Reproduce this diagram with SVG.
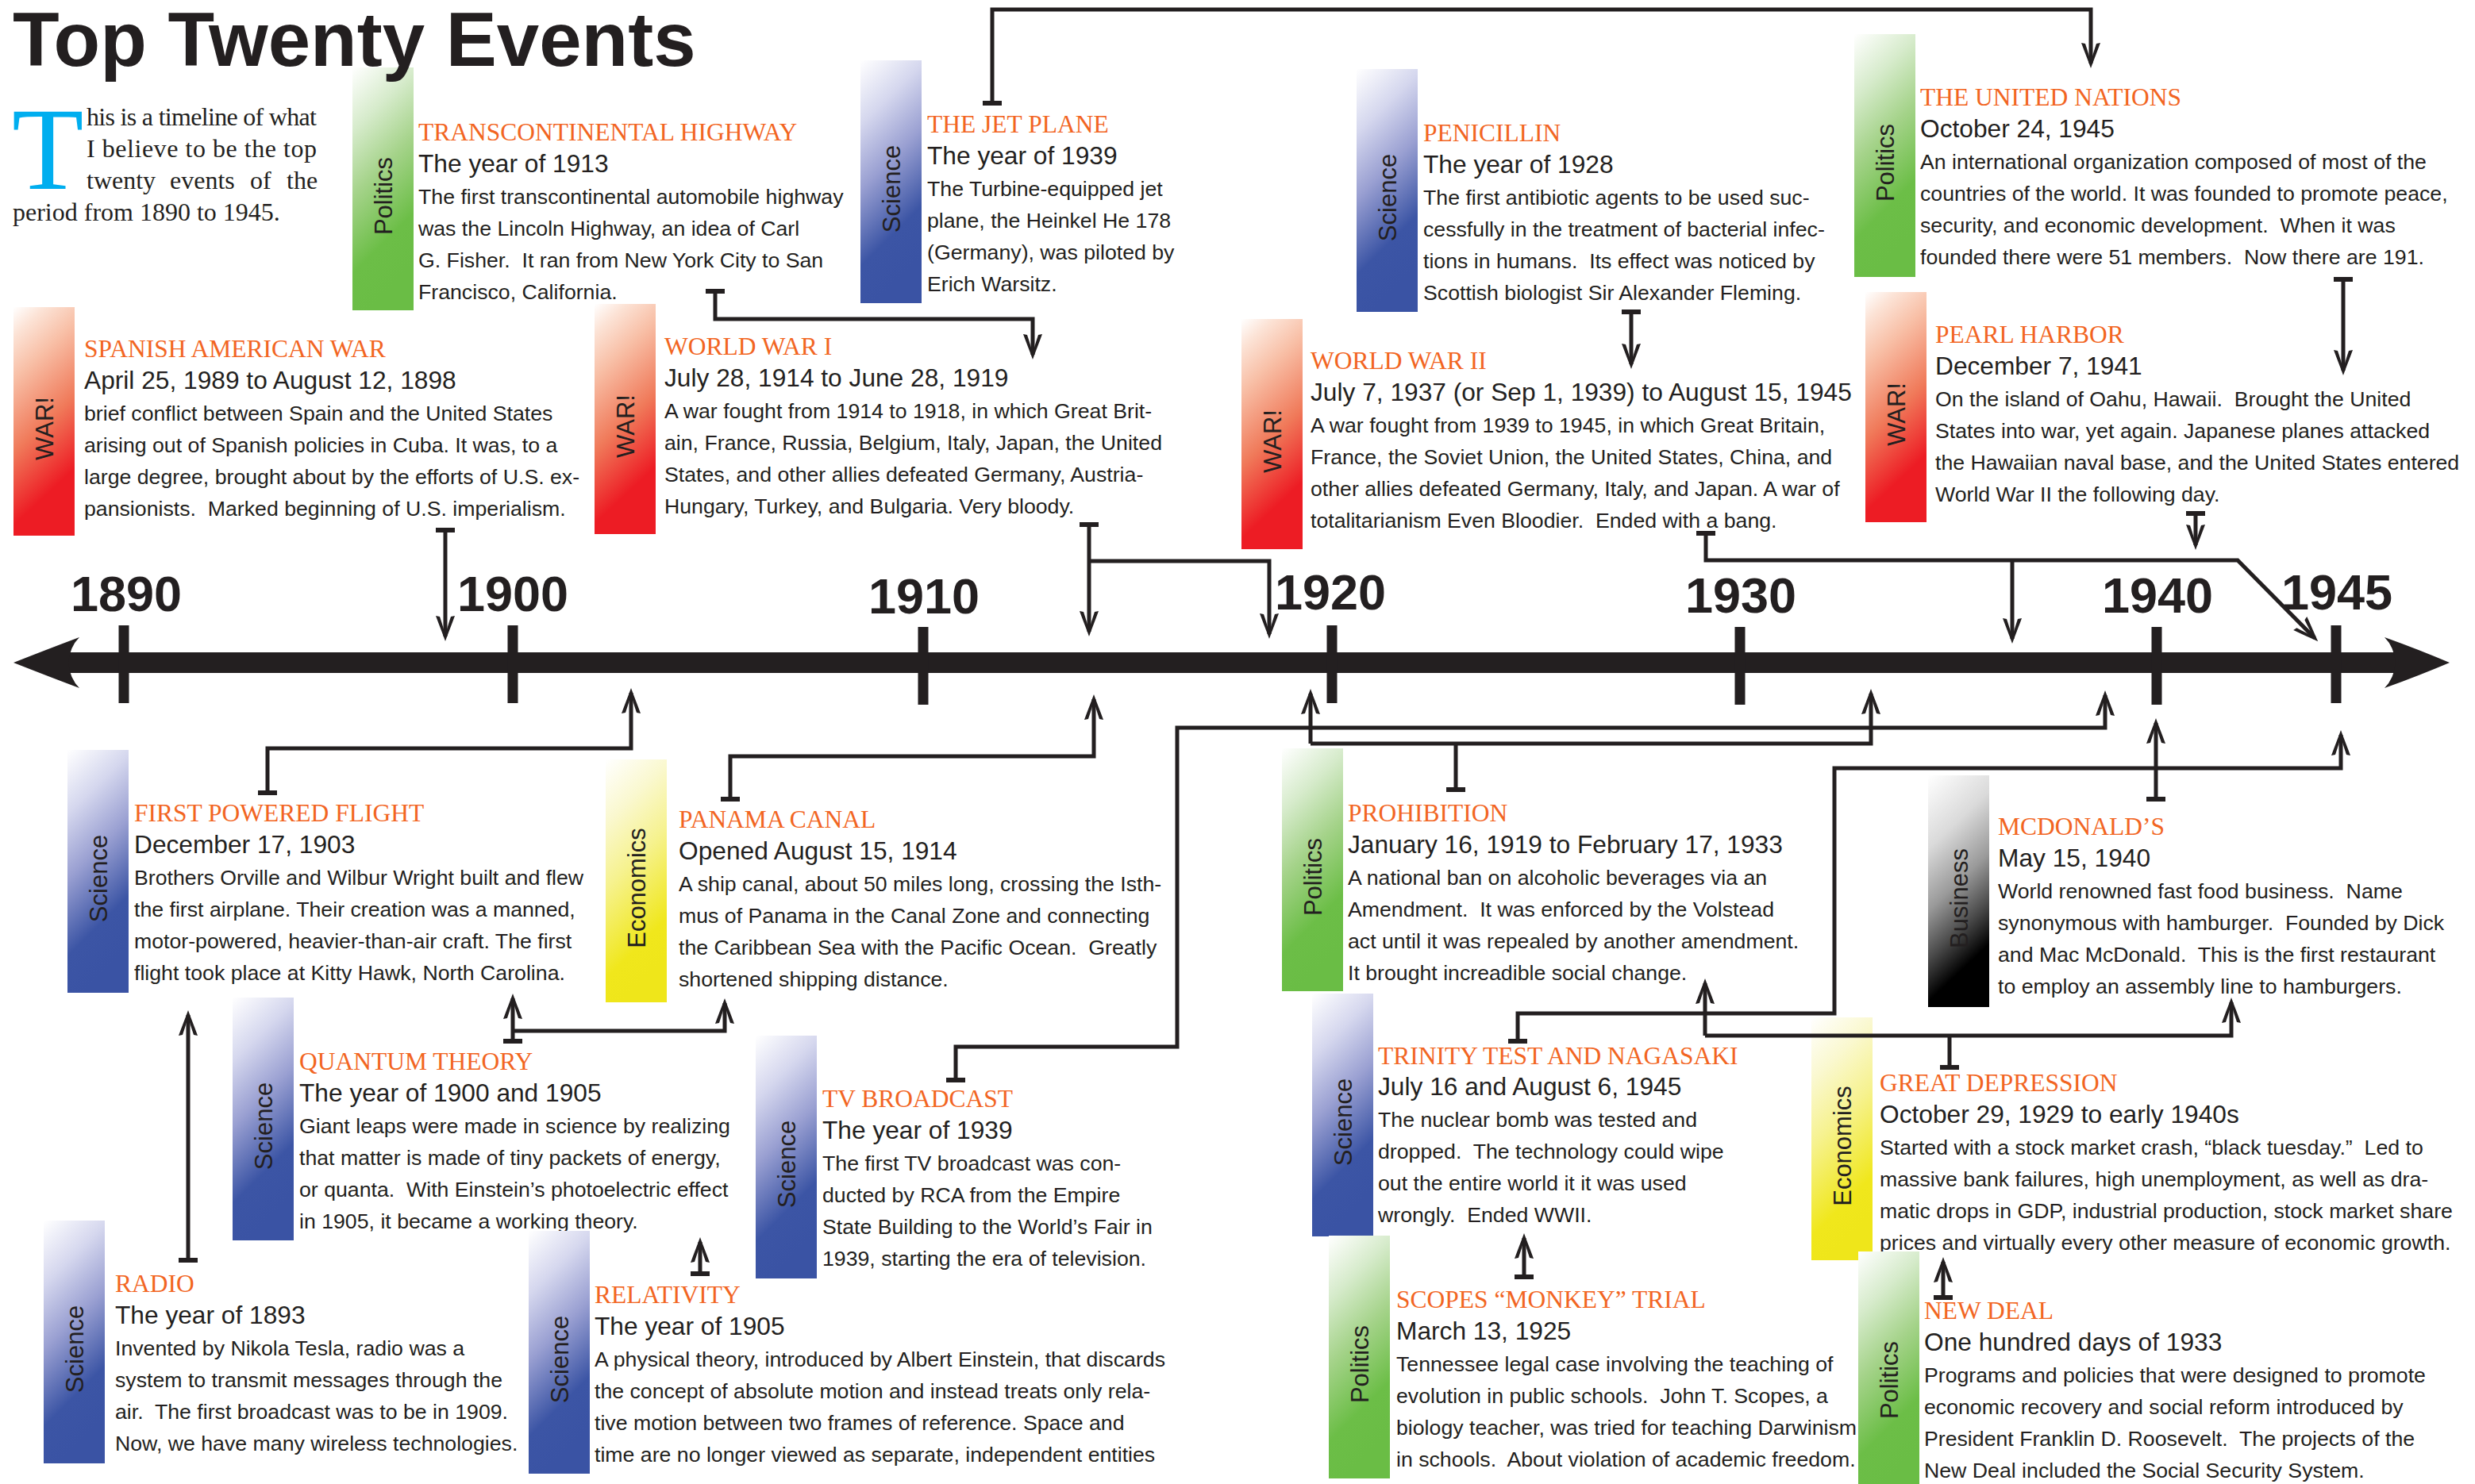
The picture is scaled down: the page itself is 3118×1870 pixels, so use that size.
<svg xmlns="http://www.w3.org/2000/svg" width="3118" height="1870" viewBox="0 0 3118 1870">
<style>
.t{font-family:"Liberation Serif","Times New Roman",serif;font-size:31.5px;fill:#F26522}
.d{font-family:"Liberation Sans",Arial,sans-serif;font-size:31.7px;fill:#231F20}
.b{font-family:"Liberation Sans",Arial,sans-serif;font-size:26.7px;fill:#231F20;white-space:pre}
.cat{font-family:"Liberation Sans",Arial,sans-serif;font-size:31px;fill:#231F20;text-anchor:middle}
.yr{font-family:"Liberation Sans",Arial,sans-serif;font-weight:bold;font-size:63px;fill:#231F20;text-anchor:middle}
.intro{font-family:"Liberation Serif","Times New Roman",serif;font-size:32px;fill:#231F20}
.con{fill:none;stroke:#231F20;stroke-width:5}
.tick{stroke:#231F20;stroke-width:13}
</style>
<defs>
<linearGradient id="gSci" x1="0" y1="0" x2="0.25" y2="1"><stop offset="0" stop-color="#FFFFFF"/><stop offset="0.25" stop-color="#D5D7EE"/><stop offset="0.5" stop-color="#9AA0D2"/><stop offset="0.8" stop-color="#3C55A5"/><stop offset="1" stop-color="#3A53A4"/></linearGradient>
<linearGradient id="gPol" x1="0" y1="0" x2="0.25" y2="1"><stop offset="0" stop-color="#FFFFFF"/><stop offset="0.25" stop-color="#D6EBCB"/><stop offset="0.5" stop-color="#A5D38A"/><stop offset="0.8" stop-color="#6CBE47"/><stop offset="1" stop-color="#6ABD45"/></linearGradient>
<linearGradient id="gWar" x1="0" y1="0" x2="0.25" y2="1"><stop offset="0" stop-color="#FFFFFF"/><stop offset="0.12" stop-color="#FCE3D6"/><stop offset="0.3" stop-color="#F8BFA6"/><stop offset="0.6" stop-color="#F07A5A"/><stop offset="0.9" stop-color="#ED1C24"/><stop offset="1" stop-color="#ED1C24"/></linearGradient>
<linearGradient id="gEco" x1="0" y1="0" x2="0.25" y2="1"><stop offset="0" stop-color="#FFFFFF"/><stop offset="0.25" stop-color="#FAF8CF"/><stop offset="0.5" stop-color="#F6F28F"/><stop offset="0.85" stop-color="#F0E71C"/><stop offset="1" stop-color="#EFE61A"/></linearGradient>
<linearGradient id="gBus" x1="0" y1="0" x2="0.25" y2="1"><stop offset="0" stop-color="#FFFFFF"/><stop offset="0.3" stop-color="#DADADA"/><stop offset="0.55" stop-color="#9A9A9A"/><stop offset="0.75" stop-color="#4A4A4A"/><stop offset="0.92" stop-color="#000000"/><stop offset="1" stop-color="#000000"/></linearGradient>
<marker id="arr" markerUnits="userSpaceOnUse" markerWidth="34" markerHeight="26" refX="26" refY="12" orient="auto" overflow="visible"><path d="M32,12 C22,8.5 10,3.5 0,0 L1,5 C10,8 18,10.5 24,12 C18,13.5 10,16 1,19 L0,24 C10,20.5 22,15.5 32,12 Z" fill="#231F20"/></marker>
<marker id="tee" markerUnits="userSpaceOnUse" markerWidth="8" markerHeight="24" refX="3" refY="12" orient="auto" overflow="visible"><rect x="0" y="0" width="6" height="24" fill="#231F20"/></marker>
</defs>
<rect width="3118" height="1870" fill="#FFFFFF"/>

<g id="intro">
<text x="15" y="238" font-family="'Liberation Serif','Times New Roman',serif" font-size="148" fill="#00AEEF">T</text>
<text class="intro" x="109" y="158" textLength="290" lengthAdjust="spacing">his is a timeline of what</text>
<text class="intro" x="109" y="198" textLength="290" lengthAdjust="spacing">I believe to be the top</text>
<text class="intro" y="238"><tspan x="109">twenty</tspan><tspan x="214">events</tspan><tspan x="315">of</tspan><tspan x="361">the</tspan></text>
<text class="intro" x="16" y="278">period from 1890 to 1945.</text>
</g>

<g id="timeline">
<rect x="86" y="822" width="2934" height="26" fill="#231F20"/>
<path d="M17,835 Q60,818 100,803 Q88,815 86,835 Q88,855 100,867 Q60,852 17,835 Z" fill="#231F20"/>
<path d="M3086,835 Q3046,818 3004,803 Q3016,815 3018,835 Q3016,855 3004,867 Q3046,852 3086,835 Z" fill="#231F20"/>
<line class="tick" x1="156" y1="788" x2="156" y2="886"/>
<line class="tick" x1="646" y1="788" x2="646" y2="886"/>
<line class="tick" x1="1163" y1="790" x2="1163" y2="888"/>
<line class="tick" x1="1678" y1="788" x2="1678" y2="886"/>
<line class="tick" x1="2192" y1="790" x2="2192" y2="888"/>
<line class="tick" x1="2717" y1="790" x2="2717" y2="888"/>
<line class="tick" x1="2943" y1="788" x2="2943" y2="886"/>
<text class="yr" x="159" y="770">1890</text>
<text class="yr" x="646" y="770">1900</text>
<text class="yr" x="1164" y="773">1910</text>
<text class="yr" x="1676" y="768">1920</text>
<text class="yr" x="2193" y="772">1930</text>
<text class="yr" x="2718" y="772">1940</text>
<text class="yr" x="2944" y="768">1945</text>
</g>

<g id="n-transcontinental">
<rect x="444" y="85" width="77" height="306" fill="url(#gPol)"/>
<text class="cat" transform="translate(494,247) rotate(-90)">Politics</text>
<text class="t" x="527" y="177">TRANSCONTINENTAL HIGHWAY</text>
<text class="d" x="527" y="217">The year of 1913</text>
<text class="b"><tspan x="527" y="257">The first transcontinental automobile highway</tspan><tspan x="527" y="297">was the Lincoln Highway, an idea of Carl</tspan><tspan x="527" y="337">G. Fisher.  It ran from New York City to San</tspan><tspan x="527" y="377">Francisco, California.</tspan></text>
</g>

<g id="n-jetplane">
<rect x="1084" y="76" width="77" height="306" fill="url(#gSci)"/>
<text class="cat" transform="translate(1134,238) rotate(-90)">Science</text>
<text class="t" x="1168" y="167">THE JET PLANE</text>
<text class="d" x="1168" y="207">The year of 1939</text>
<text class="b"><tspan x="1168" y="247">The Turbine-equipped jet</tspan><tspan x="1168" y="287">plane, the Heinkel He 178</tspan><tspan x="1168" y="327">(Germany), was piloted by</tspan><tspan x="1168" y="367">Erich Warsitz.</tspan></text>
</g>

<g id="n-penicillin">
<rect x="1709" y="87" width="77" height="306" fill="url(#gSci)"/>
<text class="cat" transform="translate(1759,249) rotate(-90)">Science</text>
<text class="t" x="1793" y="178">PENICILLIN</text>
<text class="d" x="1793" y="218">The year of 1928</text>
<text class="b"><tspan x="1793" y="258">The first antibiotic agents to be used suc-</tspan><tspan x="1793" y="298">cessfully in the treatment of bacterial infec-</tspan><tspan x="1793" y="338">tions in humans.  Its effect was noticed by</tspan><tspan x="1793" y="378">Scottish biologist Sir Alexander Fleming.</tspan></text>
</g>

<g id="n-united-nations">
<rect x="2336" y="43" width="77" height="306" fill="url(#gPol)"/>
<text class="cat" transform="translate(2386,205) rotate(-90)">Politics</text>
<text class="t" x="2419" y="133">THE UNITED NATIONS</text>
<text class="d" x="2419" y="173">October 24, 1945</text>
<text class="b"><tspan x="2419" y="213">An international organization composed of most of the</tspan><tspan x="2419" y="253">countries of the world. It was founded to promote peace,</tspan><tspan x="2419" y="293">security, and economic development.  When it was</tspan><tspan x="2419" y="333">founded there were 51 members.  Now there are 191.</tspan></text>
</g>

<g id="n-pearl-harbor">
<rect x="2350" y="368" width="77" height="290" fill="url(#gWar)"/>
<text class="cat" transform="translate(2400,522) rotate(-90)">WAR!</text>
<text class="t" x="2438" y="432">PEARL HARBOR</text>
<text class="d" x="2438" y="472">December 7, 1941</text>
<text class="b"><tspan x="2438" y="512">On the island of Oahu, Hawaii.  Brought the United</tspan><tspan x="2438" y="552">States into war, yet again. Japanese planes attacked</tspan><tspan x="2438" y="592">the Hawaiian naval base, and the United States entered</tspan><tspan x="2438" y="632">World War II the following day.</tspan></text>
</g>

<g id="n-spanish-american-war">
<rect x="17" y="387" width="77" height="288" fill="url(#gWar)"/>
<text class="cat" transform="translate(67,540) rotate(-90)">WAR!</text>
<text class="t" x="106" y="450">SPANISH AMERICAN WAR</text>
<text class="d" x="106" y="490">April 25, 1989 to August 12, 1898</text>
<text class="b"><tspan x="106" y="530">brief conflict between Spain and the United States</tspan><tspan x="106" y="570">arising out of Spanish policies in Cuba. It was, to a</tspan><tspan x="106" y="610">large degree, brought about by the efforts of U.S. ex-</tspan><tspan x="106" y="650">pansionists.  Marked beginning of U.S. imperialism.</tspan></text>
</g>

<g id="n-world-war-1">
<rect x="749" y="383" width="77" height="290" fill="url(#gWar)"/>
<text class="cat" transform="translate(799,537) rotate(-90)">WAR!</text>
<text class="t" x="837" y="447">WORLD WAR I</text>
<text class="d" x="837" y="487">July 28, 1914 to June 28, 1919</text>
<text class="b"><tspan x="837" y="527">A war fought from 1914 to 1918, in which Great Brit-</tspan><tspan x="837" y="567">ain, France, Russia, Belgium, Italy, Japan, the United</tspan><tspan x="837" y="607">States, and other allies defeated Germany, Austria-</tspan><tspan x="837" y="647">Hungary, Turkey, and Bulgaria. Very bloody.</tspan></text>
</g>

<g id="n-world-war-2">
<rect x="1564" y="402" width="77" height="290" fill="url(#gWar)"/>
<text class="cat" transform="translate(1614,556) rotate(-90)">WAR!</text>
<text class="t" x="1651" y="465">WORLD WAR II</text>
<text class="d" x="1651" y="505">July 7, 1937 (or Sep 1, 1939) to August 15, 1945</text>
<text class="b"><tspan x="1651" y="545">A war fought from 1939 to 1945, in which Great Britain,</tspan><tspan x="1651" y="585">France, the Soviet Union, the United States, China, and</tspan><tspan x="1651" y="625">other allies defeated Germany, Italy, and Japan. A war of</tspan><tspan x="1651" y="665">totalitarianism Even Bloodier.  Ended with a bang.</tspan></text>
</g>

<g id="n-first-powered-flight">
<rect x="85" y="945" width="77" height="306" fill="url(#gSci)"/>
<text class="cat" transform="translate(135,1107) rotate(-90)">Science</text>
<text class="t" x="169" y="1035">FIRST POWERED FLIGHT</text>
<text class="d" x="169" y="1075">December 17, 1903</text>
<text class="b"><tspan x="169" y="1115">Brothers Orville and Wilbur Wright built and flew</tspan><tspan x="169" y="1155">the first airplane. Their creation was a manned,</tspan><tspan x="169" y="1195">motor-powered, heavier-than-air craft. The first</tspan><tspan x="169" y="1235">flight took place at Kitty Hawk, North Carolina.</tspan></text>
</g>

<g id="n-panama-canal">
<rect x="763" y="957" width="77" height="306" fill="url(#gEco)"/>
<text class="cat" transform="translate(813,1119) rotate(-90)">Economics</text>
<text class="t" x="855" y="1043">PANAMA CANAL</text>
<text class="d" x="855" y="1083">Opened August 15, 1914</text>
<text class="b"><tspan x="855" y="1123">A ship canal, about 50 miles long, crossing the Isth-</tspan><tspan x="855" y="1163">mus of Panama in the Canal Zone and connecting</tspan><tspan x="855" y="1203">the Caribbean Sea with the Pacific Ocean.  Greatly</tspan><tspan x="855" y="1243">shortened shipping distance.</tspan></text>
</g>

<g id="n-quantum-theory">
<rect x="293" y="1257" width="77" height="306" fill="url(#gSci)"/>
<text class="cat" transform="translate(343,1419) rotate(-90)">Science</text>
<text class="t" x="377" y="1348">QUANTUM THEORY</text>
<text class="d" x="377" y="1388">The year of 1900 and 1905</text>
<text class="b"><tspan x="377" y="1428">Giant leaps were made in science by realizing</tspan><tspan x="377" y="1468">that matter is made of tiny packets of energy,</tspan><tspan x="377" y="1508">or quanta.  With Einstein&#8217;s photoelectric effect</tspan><tspan x="377" y="1548">in 1905, it became a working theory.</tspan></text>
</g>

<g id="n-radio">
<rect x="55" y="1538" width="77" height="306" fill="url(#gSci)"/>
<text class="cat" transform="translate(105,1700) rotate(-90)">Science</text>
<text class="t" x="145" y="1628">RADIO</text>
<text class="d" x="145" y="1668">The year of 1893</text>
<text class="b"><tspan x="145" y="1708">Invented by Nikola Tesla, radio was a</tspan><tspan x="145" y="1748">system to transmit messages through the</tspan><tspan x="145" y="1788">air.  The first broadcast was to be in 1909.</tspan><tspan x="145" y="1828">Now, we have many wireless technologies.</tspan></text>
</g>

<g id="n-relativity">
<rect x="666" y="1551" width="77" height="306" fill="url(#gSci)"/>
<text class="cat" transform="translate(716,1713) rotate(-90)">Science</text>
<text class="t" x="749" y="1642">RELATIVITY</text>
<text class="d" x="749" y="1682">The year of 1905</text>
<text class="b"><tspan x="749" y="1722">A physical theory, introduced by Albert Einstein, that discards</tspan><tspan x="749" y="1762">the concept of absolute motion and instead treats only rela-</tspan><tspan x="749" y="1802">tive motion between two frames of reference. Space and</tspan><tspan x="749" y="1842">time are no longer viewed as separate, independent entities</tspan></text>
</g>

<g id="n-tv-broadcast">
<rect x="952" y="1305" width="77" height="306" fill="url(#gSci)"/>
<text class="cat" transform="translate(1002,1467) rotate(-90)">Science</text>
<text class="t" x="1036" y="1395">TV BROADCAST</text>
<text class="d" x="1036" y="1435">The year of 1939</text>
<text class="b"><tspan x="1036" y="1475">The first TV broadcast was con-</tspan><tspan x="1036" y="1515">ducted by RCA from the Empire</tspan><tspan x="1036" y="1555">State Building to the World&#8217;s Fair in</tspan><tspan x="1036" y="1595">1939, starting the era of television.</tspan></text>
</g>

<g id="n-prohibition">
<rect x="1615" y="943" width="77" height="306" fill="url(#gPol)"/>
<text class="cat" transform="translate(1665,1105) rotate(-90)">Politics</text>
<text class="t" x="1698" y="1035">PROHIBITION</text>
<text class="d" x="1698" y="1075">January 16, 1919 to February 17, 1933</text>
<text class="b"><tspan x="1698" y="1115">A national ban on alcoholic beverages via an</tspan><tspan x="1698" y="1155">Amendment.  It was enforced by the Volstead</tspan><tspan x="1698" y="1195">act until it was repealed by another amendment.</tspan><tspan x="1698" y="1235">It brought increadible social change.</tspan></text>
</g>

<g id="n-trinity">
<rect x="1653" y="1252" width="77" height="306" fill="url(#gSci)"/>
<text class="cat" transform="translate(1703,1414) rotate(-90)">Science</text>
<text class="t" x="1736" y="1341">TRINITY TEST AND NAGASAKI</text>
<text class="d" x="1736" y="1380">July 16 and August 6, 1945</text>
<text class="b"><tspan x="1736" y="1420">The nuclear bomb was tested and</tspan><tspan x="1736" y="1460">dropped.  The technology could wipe</tspan><tspan x="1736" y="1500">out the entire world it it was used</tspan><tspan x="1736" y="1540">wrongly.  Ended WWII.</tspan></text>
</g>

<g id="n-scopes">
<rect x="1674" y="1557" width="77" height="306" fill="url(#gPol)"/>
<text class="cat" transform="translate(1724,1719) rotate(-90)">Politics</text>
<text class="t" x="1759" y="1648">SCOPES &#8220;MONKEY&#8221; TRIAL</text>
<text class="d" x="1759" y="1688">March 13, 1925</text>
<text class="b"><tspan x="1759" y="1728">Tennessee legal case involving the teaching of</tspan><tspan x="1759" y="1768">evolution in public schools.  John T. Scopes, a</tspan><tspan x="1759" y="1808">biology teacher, was tried for teaching Darwinism</tspan><tspan x="1759" y="1848">in schools.  About violation of academic freedom.</tspan></text>
</g>

<g id="n-mcdonalds">
<rect x="2429" y="977" width="77" height="292" fill="url(#gBus)"/>
<text class="cat" transform="translate(2479,1132) rotate(-90)">Business</text>
<text class="t" x="2517" y="1052">MCDONALD&#8217;S</text>
<text class="d" x="2517" y="1092">May 15, 1940</text>
<text class="b"><tspan x="2517" y="1132">World renowned fast food business.  Name</tspan><tspan x="2517" y="1172">synonymous with hamburger.  Founded by Dick</tspan><tspan x="2517" y="1212">and Mac McDonald.  This is the first restaurant</tspan><tspan x="2517" y="1252">to employ an assembly line to hamburgers.</tspan></text>
</g>

<g id="n-great-depression">
<rect x="2282" y="1282" width="77" height="306" fill="url(#gEco)"/>
<text class="cat" transform="translate(2332,1444) rotate(-90)">Economics</text>
<text class="t" x="2368" y="1375">GREAT DEPRESSION</text>
<text class="d" x="2368" y="1415">October 29, 1929 to early 1940s</text>
<text class="b"><tspan x="2368" y="1455">Started with a stock market crash, &#8220;black tuesday.&#8221;  Led to</tspan><tspan x="2368" y="1495">massive bank failures, high unemployment, as well as dra-</tspan><tspan x="2368" y="1535">matic drops in GDP, industrial production, stock market share</tspan><tspan x="2368" y="1575">prices and virtually every other measure of economic growth.</tspan></text>
</g>

<g id="n-new-deal">
<rect x="2341" y="1577" width="77" height="306" fill="url(#gPol)"/>
<text class="cat" transform="translate(2391,1739) rotate(-90)">Politics</text>
<text class="t" x="2424" y="1662">NEW DEAL</text>
<text class="d" x="2424" y="1702">One hundred days of 1933</text>
<text class="b"><tspan x="2424" y="1742">Programs and policies that were designed to promote</tspan><tspan x="2424" y="1782">economic recovery and social reform introduced by</tspan><tspan x="2424" y="1822">President Franklin D. Roosevelt.  The projects of the</tspan><tspan x="2424" y="1862">New Deal included the Social Security System.</tspan></text>
</g>

<g id="connectors">
<path class="con" marker-start="url(#tee)" marker-end="url(#arr)" d="M561,668 V802"/>
<path class="con" marker-start="url(#tee)" marker-end="url(#arr)" d="M901,367 V402 H1301 V447"/>
<path class="con" marker-start="url(#tee)" marker-end="url(#arr)" d="M1372,661 V796"/>
<path class="con" marker-end="url(#arr)" d="M1372,707 H1599 V799"/>
<path class="con" marker-start="url(#tee)" marker-end="url(#arr)" d="M1250,130 V12 H2634 V80"/>
<path class="con" marker-start="url(#tee)" marker-end="url(#arr)" d="M2055,393 V459"/>
<path class="con" marker-start="url(#tee)" marker-end="url(#arr)" d="M2952,352 V467"/>
<path class="con" marker-start="url(#tee)" marker-end="url(#arr)" d="M2149,672 V706 H2819 L2916,804"/>
<path class="con" marker-end="url(#arr)" d="M2535,706 V805"/>
<path class="con" marker-start="url(#tee)" marker-end="url(#arr)" d="M2766,647 V687"/>
<path class="con" marker-start="url(#tee)" marker-end="url(#arr)" d="M337,999 V943 H795 V873"/>
<path class="con" marker-start="url(#tee)" marker-end="url(#arr)" d="M920,1007 V953 H1378 V881"/>
<path class="con" marker-start="url(#tee)" marker-end="url(#arr)" d="M1204,1361 V1319 H1483 V917 H2652 V876"/>
<path class="con" marker-start="url(#tee)" d="M1834,995 V937"/>
<path class="con" marker-end="url(#arr)" d="M1651,937 V874"/>
<path class="con" marker-end="url(#arr)" d="M1651,937 H2357 V874"/>
<path class="con" marker-start="url(#tee)" marker-end="url(#arr)" d="M1912,1312 V1277 H2311 V968 H2949 V926"/>
<path class="con" marker-start="url(#tee)" marker-end="url(#arr)" d="M2716,1007 V911"/>
<path class="con" marker-start="url(#tee)" d="M2456,1345 V1305"/>
<path class="con" marker-end="url(#arr)" d="M2148,1305 V1239"/>
<path class="con" marker-end="url(#arr)" d="M2148,1305 H2811 V1263"/>
<path class="con" marker-start="url(#tee)" marker-end="url(#arr)" d="M237,1588 V1279"/>
<path class="con" marker-start="url(#tee)" marker-end="url(#arr)" d="M646,1312 V1258"/>
<path class="con" marker-end="url(#arr)" d="M646,1299 H913 V1264"/>
<path class="con" marker-start="url(#tee)" marker-end="url(#arr)" d="M882,1605 V1565"/>
<path class="con" marker-start="url(#tee)" marker-end="url(#arr)" d="M1920,1609 V1560"/>
<path class="con" marker-start="url(#tee)" marker-end="url(#arr)" d="M2448,1635 V1590"/>
</g>

<text id="title" x="16" y="83" font-family="'Liberation Sans',Arial,sans-serif" font-weight="bold" font-size="96" fill="#231F20">Top Twenty Events</text>
</svg>
